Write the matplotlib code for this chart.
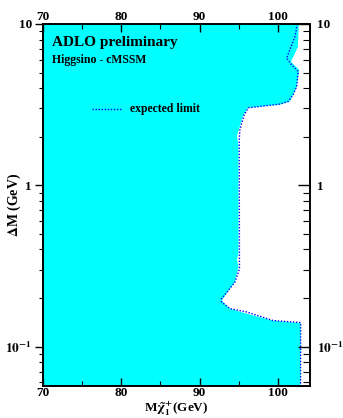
import numpy as np
import matplotlib
matplotlib.use('Agg')
from matplotlib import pyplot as plt
from matplotlib.ticker import FixedLocator, FixedFormatter, NullFormatter

# observed excluded region edge (cyan), chargino mass vs delta M
obs_mass = [102.68, 102.55, 101.66, 102.72, 102.39, 101.53, 100.26, 96.17, 95.53,
            94.89, 94.77, 94.96, 94.96, 94.77, 94.96, 94.51, 92.81, 93.87, 96.0,
            99.36, 102.9, 102.9]
obs_dm = [10.0, 7.21, 5.83, 5.20, 4.03, 3.31, 3.16, 3.02, 2.68,
          2.12, 2.01, 1.79, 0.375, 0.349, 0.312, 0.252, 0.193, 0.172, 0.160,
          0.145, 0.140, 0.05]

# expected limit (dotted)
exp_mass = [102.46, 102.30, 102.17, 101.53, 101.11, 101.75, 102.59, 102.39, 101.95,
            101.32, 100.26, 96.21, 95.70, 95.15, 95.06, 95.09, 94.51, 92.81, 92.81,
            93.87, 96.0, 99.40, 102.9, 102.9]
exp_dm = [10.0, 8.96, 8.35, 6.91, 6.14, 5.58, 5.08, 4.10, 3.65,
          3.31, 3.19, 3.02, 2.74, 2.22, 1.92, 0.303, 0.251, 0.198, 0.189,
          0.172, 0.164, 0.145, 0.141, 0.057]

x_ticks = [70, 80, 90, 100]
x_minor = [75, 85, 95]
y_ticks = [0.1, 1, 10]
y_labels = [r'$\mathbf{10^{-1}}$', '1', '10']
y_minor = [m * d for d in (0.01, 0.1, 1) for m in range(2, 10)]

plt.rcParams['font.family'] = ['Liberation Serif', 'DejaVu Serif']
plt.rcParams['font.weight'] = 'bold'
plt.rcParams['mathtext.fontset'] = 'stix'
plt.rcParams['mathtext.default'] = 'bf'

fig = plt.figure(figsize=(3.43, 4.18), dpi=100)
ax = fig.add_axes([0.1254, 0.0766, 0.7784, 0.866])

xmin, xmax = 70, 104.1
ymin, ymax = 0.057, 10

ax.fill([xmin] + obs_mass + [xmin], [obs_dm[0]] + obs_dm + [obs_dm[-1]],
        color='#00ffff', lw=0, zorder=1)
ax.plot(exp_mass, exp_dm, color='blue', ls=(0, (1, 1.2)), lw=1.0, zorder=2)

ax.set_xlim(xmin, xmax)
ax.set_yscale('log')
ax.set_ylim(ymin, ymax)

ax.xaxis.set_major_locator(FixedLocator(x_ticks))
ax.xaxis.set_minor_locator(FixedLocator(x_minor))
ax.tick_params(axis='x', which='both', direction='in', top=True, bottom=True,
               labeltop=True, labelsize=9.5, pad=1)
ax.tick_params(axis='x', which='major', length=6, width=1)
ax.tick_params(axis='x', which='minor', length=3.5, width=0.8)

ax.yaxis.set_major_locator(FixedLocator(y_ticks))
ax.yaxis.set_major_formatter(FixedFormatter(y_labels))
ax.yaxis.set_minor_locator(FixedLocator(y_minor))
ax.yaxis.set_minor_formatter(NullFormatter())
ax.tick_params(axis='y', which='both', direction='out', left=True, right=False,
               labelsize=9.5, pad=2)
ax.tick_params(axis='y', which='major', length=6, width=1)
ax.tick_params(axis='y', which='minor', length=3, width=0.8)

ax2 = ax.twinx()
ax2.set_yscale('log')
ax2.set_ylim(ymin, ymax)
ax2.yaxis.set_major_locator(FixedLocator(y_ticks))
ax2.yaxis.set_major_formatter(FixedFormatter(y_labels))
ax2.yaxis.set_minor_locator(FixedLocator(y_minor))
ax2.yaxis.set_minor_formatter(NullFormatter())
ax2.tick_params(axis='y', which='both', direction='in', labelsize=9.5, pad=5)
ax2.tick_params(axis='y', which='major', length=9, width=1)
ax2.tick_params(axis='y', which='minor', length=5, width=0.8)

for a in (ax, ax2):
    for s in a.spines.values():
        s.set_linewidth(1.2)
    for lab in a.get_xticklabels() + a.get_yticklabels():
        lab.set_fontweight('bold')

ax.text(0.034, 0.95, 'ADLO preliminary', transform=ax.transAxes,
        fontsize=11, fontweight='bold', va='center')
ax.text(0.034, 0.90, 'Higgsino - cMSSM', transform=ax.transAxes,
        fontsize=8.5, fontweight='bold', va='center')
ax.plot([0.184, 0.296], [0.766, 0.766], transform=ax.transAxes,
        color='blue', ls=(0, (1, 1.2)), lw=1.0)
ax.text(0.326, 0.766, 'expected limit', transform=ax.transAxes,
        fontsize=8.5, fontweight='bold', va='center')

ax.set_xlabel(r'M$\tilde{\chi}^{+}_{1}$(GeV)', fontsize=9.5, fontweight='bold')
ax.xaxis.set_label_coords(0.5, -0.037)
ax.set_ylabel(r'$\Delta$M (GeV)', fontsize=10, fontweight='bold')
ax.yaxis.set_label_coords(-0.075, 0.5)

fig.savefig('out.png', dpi=100)
